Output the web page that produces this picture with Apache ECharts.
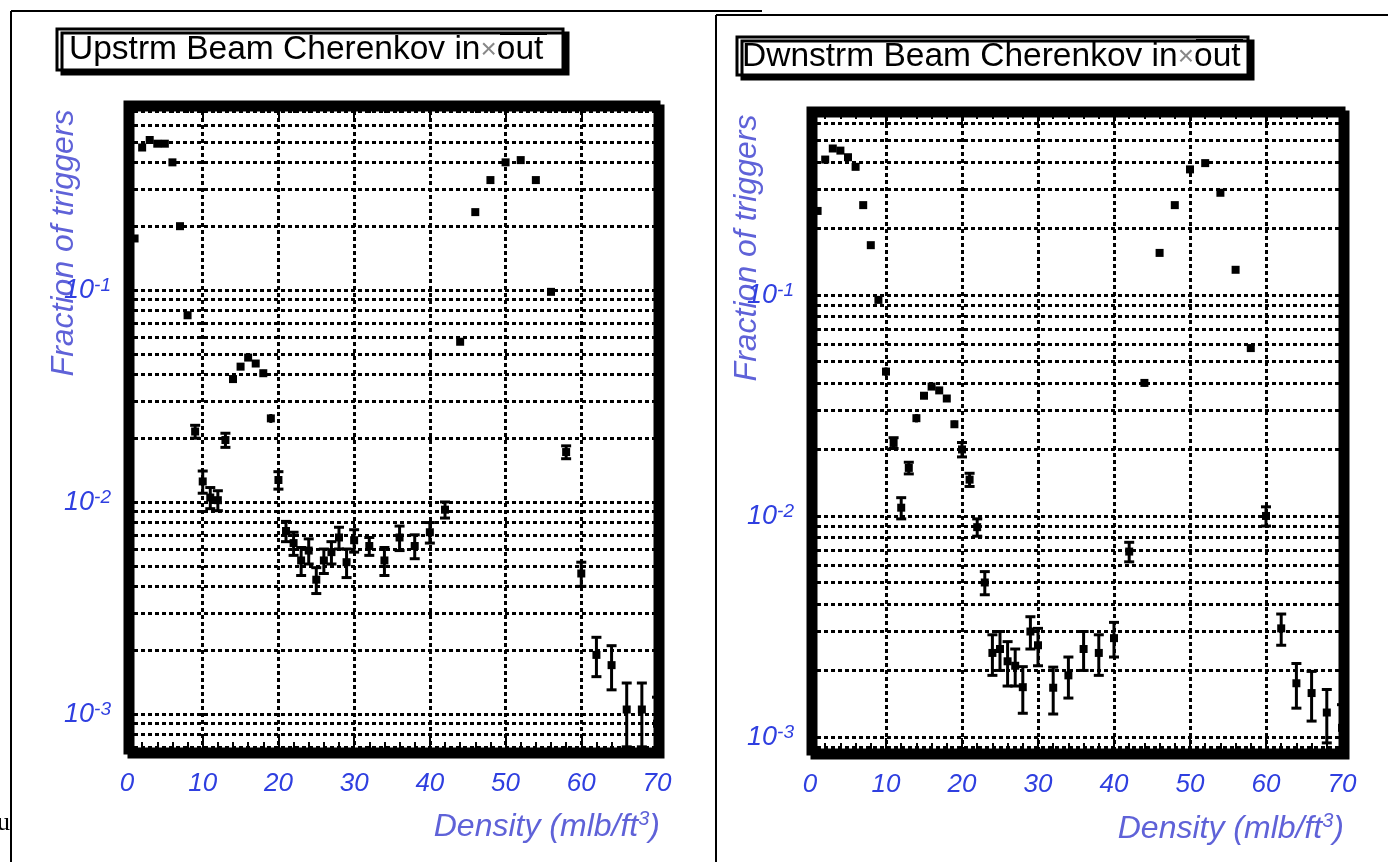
<!DOCTYPE html>
<html><head><meta charset="utf-8">
<script src="https://cdn.jsdelivr.net/npm/echarts@6/dist/echarts.min.js"></script>
<style>html,body{margin:0;padding:0;background:#fff}#c{width:1388px;height:862px}</style>
</head><body><div id="c"></div><script>
// ---------------- data ----------------
const densityUp = [0,1,2,3,4,5,6,7,8,9,10,11,12,13,14,15,16,17,18,19,20,21,22,23,24,25,26,27,28,29,30,32,34,36,38,40,42,44,46,48,50,52,54,56,58,60,62,64,66,68,70];
const fractionUp = [0.0027,0.175,0.47,0.51,0.49,0.49,0.40,0.20,0.076,0.0215,0.0125,0.0105,0.0102,0.0196,0.038,0.0435,0.048,0.045,0.0405,0.0248,0.0127,0.0073,0.0064,0.0053,0.0059,0.0043,0.0053,0.0058,0.0068,0.0052,0.0066,0.0062,0.0053,0.0068,0.0062,0.0072,0.0092,0.057,0.233,0.33,0.40,0.41,0.33,0.098,0.0172,0.0046,0.0019,0.0017,0.00105,0.00105,0.0009];
const errorUp = [0.0006,0.004,0.01,0.01,0.01,0.01,0.008,0.004,0.003,0.0015,0.0015,0.0012,0.0011,0.0015,0.0015,0.0015,0.0015,0.0015,0.0015,0.0012,0.0012,0.0008,0.0008,0.0008,0.0008,0.0006,0.0007,0.0007,0.0008,0.0008,0.0008,0.0006,0.0008,0.0009,0.0008,0.0008,0.0008,0.002,0.005,0.005,0.005,0.005,0.005,0.003,0.0012,0.0006,0.0004,0.0004,0.00035,0.00035,0.0003];

const densityDn = [0,1,2,3,4,5,6,7,8,9,10,11,12,13,14,15,16,17,18,19,20,21,22,23,24,25,26,27,28,29,30,32,34,36,38,40,42,44,46,48,50,52,54,56,58,60,62,64,66,68,70];
const fractionDn = [0.0029,0.24,0.41,0.46,0.45,0.42,0.38,0.255,0.168,0.095,0.045,0.0214,0.0109,0.0165,0.0277,0.035,0.0385,0.037,0.034,0.026,0.020,0.0146,0.0089,0.0050,0.0024,0.0025,0.0022,0.0021,0.00168,0.0030,0.0026,0.00167,0.0019,0.0025,0.0024,0.0028,0.0069,0.040,0.155,0.255,0.37,0.395,0.29,0.13,0.0575,0.0100,0.0031,0.00175,0.00158,0.00129,0.0011];
const errorDn = [0.0005,0.005,0.01,0.01,0.01,0.01,0.008,0.006,0.004,0.003,0.002,0.0012,0.0012,0.001,0.0012,0.0012,0.0012,0.0012,0.0012,0.001,0.0015,0.001,0.0008,0.0006,0.0005,0.0005,0.0005,0.0004,0.0004,0.0005,0.0005,0.0004,0.0004,0.0005,0.0005,0.0005,0.0007,0.0015,0.004,0.004,0.004,0.004,0.004,0.004,0.002,0.001,0.0005,0.0004,0.0004,0.00035,0.0003];

const xTickValues = [0,10,20,30,40,50,60,70];
const logGridValues = [0.0007,0.0008,0.0009,0.002,0.003,0.004,0.005,0.006,0.007,0.008,0.009,0.02,0.03,0.04,0.05,0.06,0.07,0.08,0.09,0.2,0.3,0.4,0.5,0.6,0.7];
const titleText = ['Upstrm Beam Cherenkov in', 'Dwnstrm Beam Cherenkov in'];
const yName = 'Fraction of triggers';
const xName = 'Density (mlb/ft';

// ---------------- layout ----------------
const FONT = '"Liberation Sans", Arial, sans-serif';
const TICKC = '#2f3fe0';
const NAMEC = '#5f62d8';
const panels = [
  {left:127, top:104, width:530, height:647, ymin:0.000669, ymax:0.754},
  {left:810, top:110, width:532, height:642, ymin:0.000855, ymax:0.687}
];

function renderErr(params, api) {
  const x = api.value(0), y = api.value(1), e = api.value(2);
  const c = api.coord([x, y]);
  const hi = api.coord([x, y + e]);
  const lo = api.coord([x, Math.max(y - e, 1e-7)]);
  const st = {stroke:'#000', lineWidth:3};
  const ch = [{type:'line', shape:{x1:c[0], y1:hi[1], x2:c[0], y2:lo[1]}, style:st}];
  if (lo[1] - hi[1] > 10) {
    ch.push({type:'line', shape:{x1:c[0]-5, y1:hi[1], x2:c[0]+5, y2:hi[1]}, style:st});
    ch.push({type:'line', shape:{x1:c[0]-5, y1:lo[1], x2:c[0]+5, y2:lo[1]}, style:st});
  }
  ch.push({type:'rect', shape:{x:c[0]-4, y:c[1]-4, width:8, height:8}, style:{fill:'#000'}});
  return {type:'group', children:ch};
}

const gridLine = {show:true, lineStyle:{color:'#000', width:3, type:[4,3]}};
const grids = [], xAxes = [], yAxes = [], series = [];
const sets = [[densityUp, fractionUp, errorUp], [densityDn, fractionDn, errorDn]];
panels.forEach((p, i) => {
  grids.push({left:p.left, top:p.top, width:p.width, height:p.height, show:true,
    backgroundColor:'#fff', borderColor:'#000', borderWidth:7,
    shadowColor:'#000', shadowOffsetX:4, shadowOffsetY:4, shadowBlur:0});
  const xBase = {type:'value', gridIndex:i, min:0, max:70, interval:10,
    axisLine:{show:false},
    axisTick:{show:true, inside:true, length:14, lineStyle:{color:'#000', width:2}},
    minorTick:{show:true, splitNumber:5, length:9, lineStyle:{color:'#000', width:2}}};
  xAxes.push(Object.assign({}, xBase, {position:'bottom',
    splitLine:gridLine,
    axisLabel:{show:true, margin:20, color:TICKC, fontStyle:'italic', fontSize:26, fontFamily:FONT,
      formatter: v => xTickValues.indexOf(v) >= 0 ? String(v) : ''}}));
  xAxes.push(Object.assign({}, xBase, {position:'top', axisLabel:{show:false}, splitLine:{show:false}}));
  const yBase = {type:'log', logBase:10, gridIndex:i, min:p.ymin, max:p.ymax,
    axisLine:{show:false}, axisTick:{show:false}};
  yAxes.push(Object.assign({}, yBase, {position:'left', splitLine:gridLine,
    axisLabel:{show:true, margin:16, fontFamily:FONT, color:TICKC,
      formatter: v => {
        const l = Math.log10(v), r = Math.round(l);
        if (Math.abs(l - r) > 1e-6) return '';
        return '{b|10}{s|' + r + '}';
      },
      rich:{b:{fontSize:27, fontStyle:'italic', color:TICKC, fontFamily:FONT, verticalAlign:'bottom', lineHeight:28},
            s:{fontSize:19, fontStyle:'italic', color:TICKC, fontFamily:FONT, verticalAlign:'top', lineHeight:22}}}}));
  yAxes.push(Object.assign({}, yBase, {position:'right', axisLabel:{show:false}, splitLine:{show:false}}));
  const [xs, ys, es] = sets[i];
  series.push({type:'custom', xAxisIndex:2*i, yAxisIndex:2*i, clip:true,
    data: xs.map((x, k) => [x, ys[k], es[k]]),
    encode:{x:0, y:1},
    renderItem: renderErr,
    z:5,
    markLine:{silent:true, symbol:'none', precision:10, label:{show:false},
      lineStyle:{color:'#000', width:3, type:[4,3]},
      data: logGridValues.filter(v => v > p.ymin && v < p.ymax).map(v => ({yAxis:v}))}
  });
});

// ---------------- decorations (text, frames) ----------------
const graphic = [
  {type:'line', shape:{x1:11, y1:11, x2:762, y2:11}, style:{stroke:'#000', lineWidth:2}},
  {type:'line', shape:{x1:11, y1:11, x2:11, y2:862}, style:{stroke:'#000', lineWidth:2}},
  {type:'line', shape:{x1:716, y1:15, x2:1388, y2:15}, style:{stroke:'#000', lineWidth:2}},
  {type:'line', shape:{x1:716, y1:15, x2:716, y2:862}, style:{stroke:'#000', lineWidth:2}},
  {type:'text', left:-3, top:810, style:{text:'u', font:'26px "Liberation Serif", serif', fill:'#000'}},
];
const titleBoxes = [
  {x:57, y:29, w:506, h:41, tx:69, ty:50, ox:500, oy:32},
  {x:737, y:37, w:511, h:38, tx:742, ty:57, ox:1196, oy:39}
];
titleBoxes.forEach((b, i) => {
  graphic.push({type:'rect', shape:{x:b.x, y:b.y, width:b.w, height:b.h},
    style:{fill:'#fff', stroke:'#000', lineWidth:3, shadowColor:'#000', shadowOffsetX:5, shadowOffsetY:4, shadowBlur:0}});
  graphic.push({type:'text', x:b.tx, y:b.ty,
    style:{text:'{t|' + titleText[i] + '}{m|\u00d7}{t|out}', verticalAlign:'middle',
      rich:{t:{fontSize:33.5, fontFamily:FONT, fill:'#000'}, m:{fontSize:28, fontFamily:FONT, fill:'#888'}}}});
  graphic.push({type:'rect', shape:{x:b.ox, y:b.oy, width:47, height:3}, style:{fill:'#000'}});
});
const nameSpots = [
  {yx:64, yy:243, xx:660, xy:826},
  {yx:747, yy:248, xx:1344, xy:828}
];
nameSpots.forEach(n => {
  graphic.push({type:'text', x:n.yx, y:n.yy, rotation:Math.PI/2,
    style:{text:yName, align:'center', verticalAlign:'middle', font:'italic 32px ' + FONT, fill:NAMEC}});
  graphic.push({type:'text', x:n.xx, y:n.xy,
    style:{text:'{n|' + xName + '}{s|3}{n|)}', align:'right', verticalAlign:'middle',
      rich:{n:{fontSize:32, fontStyle:'italic', fontFamily:FONT, fill:NAMEC, verticalAlign:'bottom', lineHeight:34},
            s:{fontSize:20, fontStyle:'italic', fontFamily:FONT, fill:NAMEC, verticalAlign:'top', lineHeight:16}}}});
});

const chart = echarts.init(document.getElementById('c'), null, {renderer:'canvas'});
chart.setOption({animation:false, backgroundColor:'#fff',
  grid:grids, xAxis:xAxes, yAxis:yAxes, series:series, graphic:graphic});
</script></body></html>
